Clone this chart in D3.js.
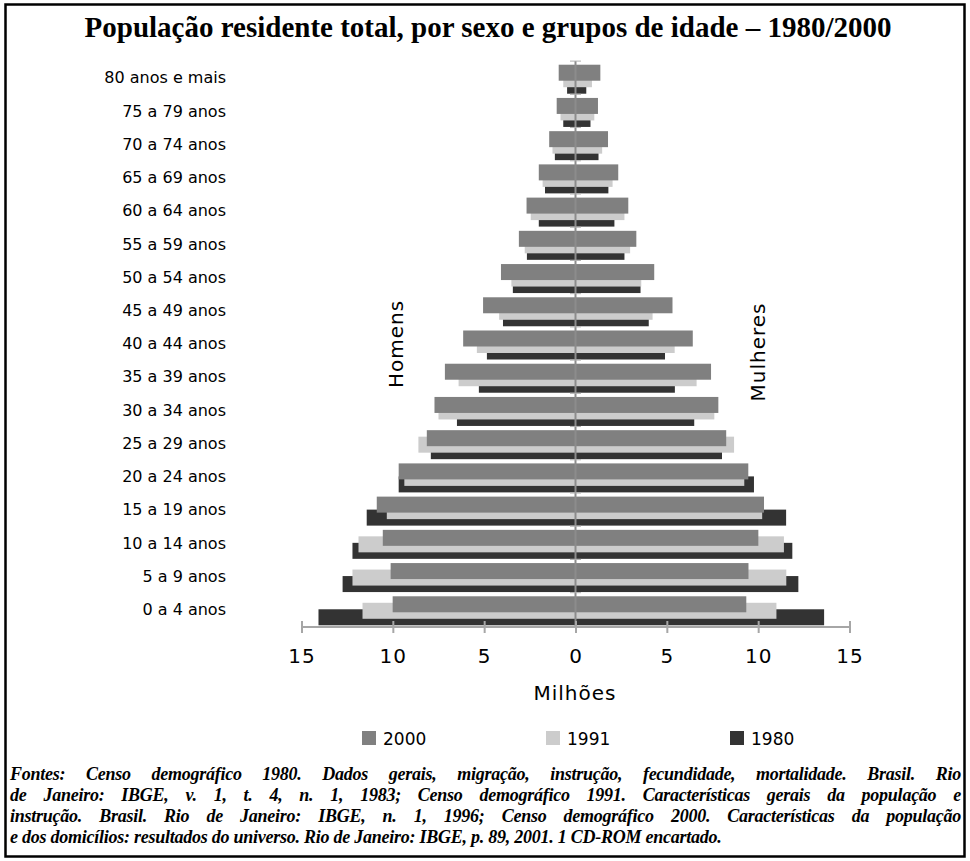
<!DOCTYPE html>
<html><head><meta charset="utf-8">
<script src="https://cdn.jsdelivr.net/npm/d3@7"></script>
<style>
body{margin:0;background:#fff;}
#wrap{position:relative;width:970px;height:861px;overflow:hidden;}
#foot div{position:absolute;left:10px;width:951px;font-family:"Liberation Serif","Times New Roman",serif;font-weight:bold;font-style:italic;font-size:18px;letter-spacing:-0.25px;line-height:21px;text-align:justify;color:#000;white-space:normal;}
</style>
</head><body>
<div id="wrap"><svg id="chart" width="970" height="861"></svg><div id="foot"></div></div>
<script>
const ageGroups = ["80 anos e mais","75 a 79 anos","70 a 74 anos","65 a 69 anos","60 a 64 anos","55 a 59 anos","50 a 54 anos","45 a 49 anos","40 a 44 anos","35 a 39 anos","30 a 34 anos","25 a 29 anos","20 a 24 anos","15 a 19 anos","10 a 14 anos","5 a 9 anos","0 a 4 anos"];
const years = ["2000","1991","1980"];
const men2000 = [0.92,1.03,1.44,2.01,2.68,3.10,4.08,5.06,6.15,7.15,7.72,8.14,9.68,10.88,10.55,10.12,10.01];
const men1991 = [0.67,0.82,1.26,1.80,2.45,2.78,3.51,4.18,5.40,6.40,7.50,8.60,9.37,10.33,11.88,12.21,11.66];
const men1980 = [0.46,0.67,1.13,1.67,2.01,2.66,3.43,3.97,4.85,5.29,6.49,7.92,9.68,11.43,12.21,12.75,14.07];
const women2000 = [1.36,1.23,1.78,2.34,2.89,3.33,4.31,5.31,6.42,7.42,7.82,8.25,9.46,10.32,10.01,9.47,9.35];
const women1991 = [0.90,1.03,1.46,2.03,2.68,2.99,3.60,4.22,5.43,6.63,7.60,8.68,9.24,10.22,11.41,11.54,11.00];
const women1980 = [0.59,0.82,1.26,1.80,2.13,2.68,3.56,4.01,4.90,5.44,6.50,8.02,9.77,11.53,11.87,12.20,13.61];
const tickValues = [-15,-10,-5,0,5,10,15];
const colors = {"2000":"#808080","1991":"#cccccc","1980":"#333333"};
const titleText = "População residente total, por sexo e grupos de idade – 1980/2000";
const footLines = [
 "Fontes: Censo demográfico 1980. Dados gerais, migração, instrução, fecundidade, mortalidade. Brasil. Rio",
 "de Janeiro: IBGE, v. 1, t. 4, n. 1, 1983; Censo demográfico 1991. Características gerais da população e",
 "instrução. Brasil. Rio de Janeiro: IBGE, n. 1, 1996; Censo demográfico 2000. Características da população",
 "e dos domicílios: resultados do universo. Rio de Janeiro: IBGE, p. 89, 2001. 1 CD-ROM encartado."
];

const svg = d3.select("#chart");
const sans = "'DejaVu Sans', Verdana, sans-serif";

// frame
svg.append("rect").attr("x",5.5).attr("y",4.5).attr("width",959).attr("height",852)
  .attr("fill","none").attr("stroke","#000").attr("stroke-width",2.5);

// title
svg.append("text").attr("x",488).attr("y",37).attr("text-anchor","middle")
  .attr("font-family","'Liberation Serif','Times New Roman',serif").attr("font-weight","bold")
  .attr("font-size",29).text(titleText);

const x = d3.scaleLinear().domain([-15,15]).range([301.5,849.5]);
const y = d3.scaleBand().domain(ageGroups).range([61.1,625.9]).padding(0);
const bw = y.bandwidth();
const barH = 16;
const offs = {"2000":-13,"1991":-6.5,"1980":0};

const series = {
  "1980":[men1980,women1980],
  "1991":[men1991,women1991],
  "2000":[men2000,women2000]
};
["1980","1991","2000"].forEach(yr=>{
  const [m,w] = series[yr];
  const g = svg.append("g");
  g.selectAll("rect.m").data(ageGroups).join("rect").attr("class","m")
    .attr("x",(d,i)=>x(-m[i])).attr("width",(d,i)=>x(0)-x(-m[i]))
    .attr("y",d=>y(d)+bw/2+offs[yr]).attr("height",barH).attr("fill",colors[yr]);
  g.selectAll("rect.w").data(ageGroups).join("rect").attr("class","w")
    .attr("x",x(0)).attr("width",(d,i)=>x(w[i])-x(0))
    .attr("y",d=>y(d)+bw/2+offs[yr]).attr("height",barH).attr("fill",colors[yr]);
});

// vertical category axis
svg.append("line").attr("x1",x(0)).attr("x2",x(0)).attr("y1",61).attr("y2",627)
  .attr("stroke","#8c8c8c").attr("stroke-width",2);
svg.append("g").selectAll("line").data(ageGroups).join("line")
  .attr("x1",x(0)-5.5).attr("x2",x(0)+5.5)
  .attr("y1",d=>y(d)).attr("y2",d=>y(d)).attr("stroke","#b0b0b0").attr("stroke-width",1);

// category labels
svg.append("g").selectAll("text").data(ageGroups).join("text")
  .attr("x",226).attr("y",d=>y(d)+bw/2).attr("dy","0.36em").attr("text-anchor","end")
  .attr("font-family",sans).attr("font-size",16).attr("fill","#000").text(d=>d);

// bottom axis
const ax = svg.append("g").attr("transform","translate(0,627)")
  .call(d3.axisBottom(x).tickValues(tickValues).tickFormat(d=>Math.abs(d)).tickSize(6).tickPadding(16));
ax.select(".domain").attr("stroke","#a6a6a6").attr("stroke-width",2).attr("d",`M${x(-15)},0H${x(15)}`);
ax.selectAll(".tick line").attr("stroke","#a6a6a6").attr("stroke-width",2).attr("y1",-6).attr("y2",6);
ax.selectAll(".tick text").attr("font-family",sans).attr("font-size",20).attr("fill","#000").attr("letter-spacing","1px");

svg.append("text").attr("x",575).attr("y",700).attr("text-anchor","middle")
  .attr("font-family",sans).attr("font-size",20).attr("letter-spacing","1px").text("Milhões");

// side labels
svg.append("text").attr("transform","translate(403,344) rotate(-90)").attr("text-anchor","middle")
  .attr("font-family",sans).attr("font-size",20).attr("letter-spacing","1px").text("Homens");
svg.append("text").attr("transform","translate(765,352) rotate(-90)").attr("text-anchor","middle")
  .attr("font-family",sans).attr("font-size",20).attr("letter-spacing","1px").text("Mulheres");

// legend
const legX = d3.scalePoint().domain(years).range([362,730]);
const lg = svg.append("g").selectAll("g").data(years).join("g")
  .attr("transform",d=>`translate(${legX(d)},731)`);
lg.append("rect").attr("width",14).attr("height",14).attr("fill",d=>colors[d]);
lg.append("text").attr("x",21).attr("y",14).attr("font-family",sans).attr("font-size",17).text(d=>d);

// footer
d3.select("#foot").selectAll("div").data(footLines).join("div")
  .style("top",(d,i)=>(764+i*21)+"px")
  .style("text-align-last",(d,i)=>i<3?"justify":"left")
  .text(d=>d);
</script>
</body></html>
